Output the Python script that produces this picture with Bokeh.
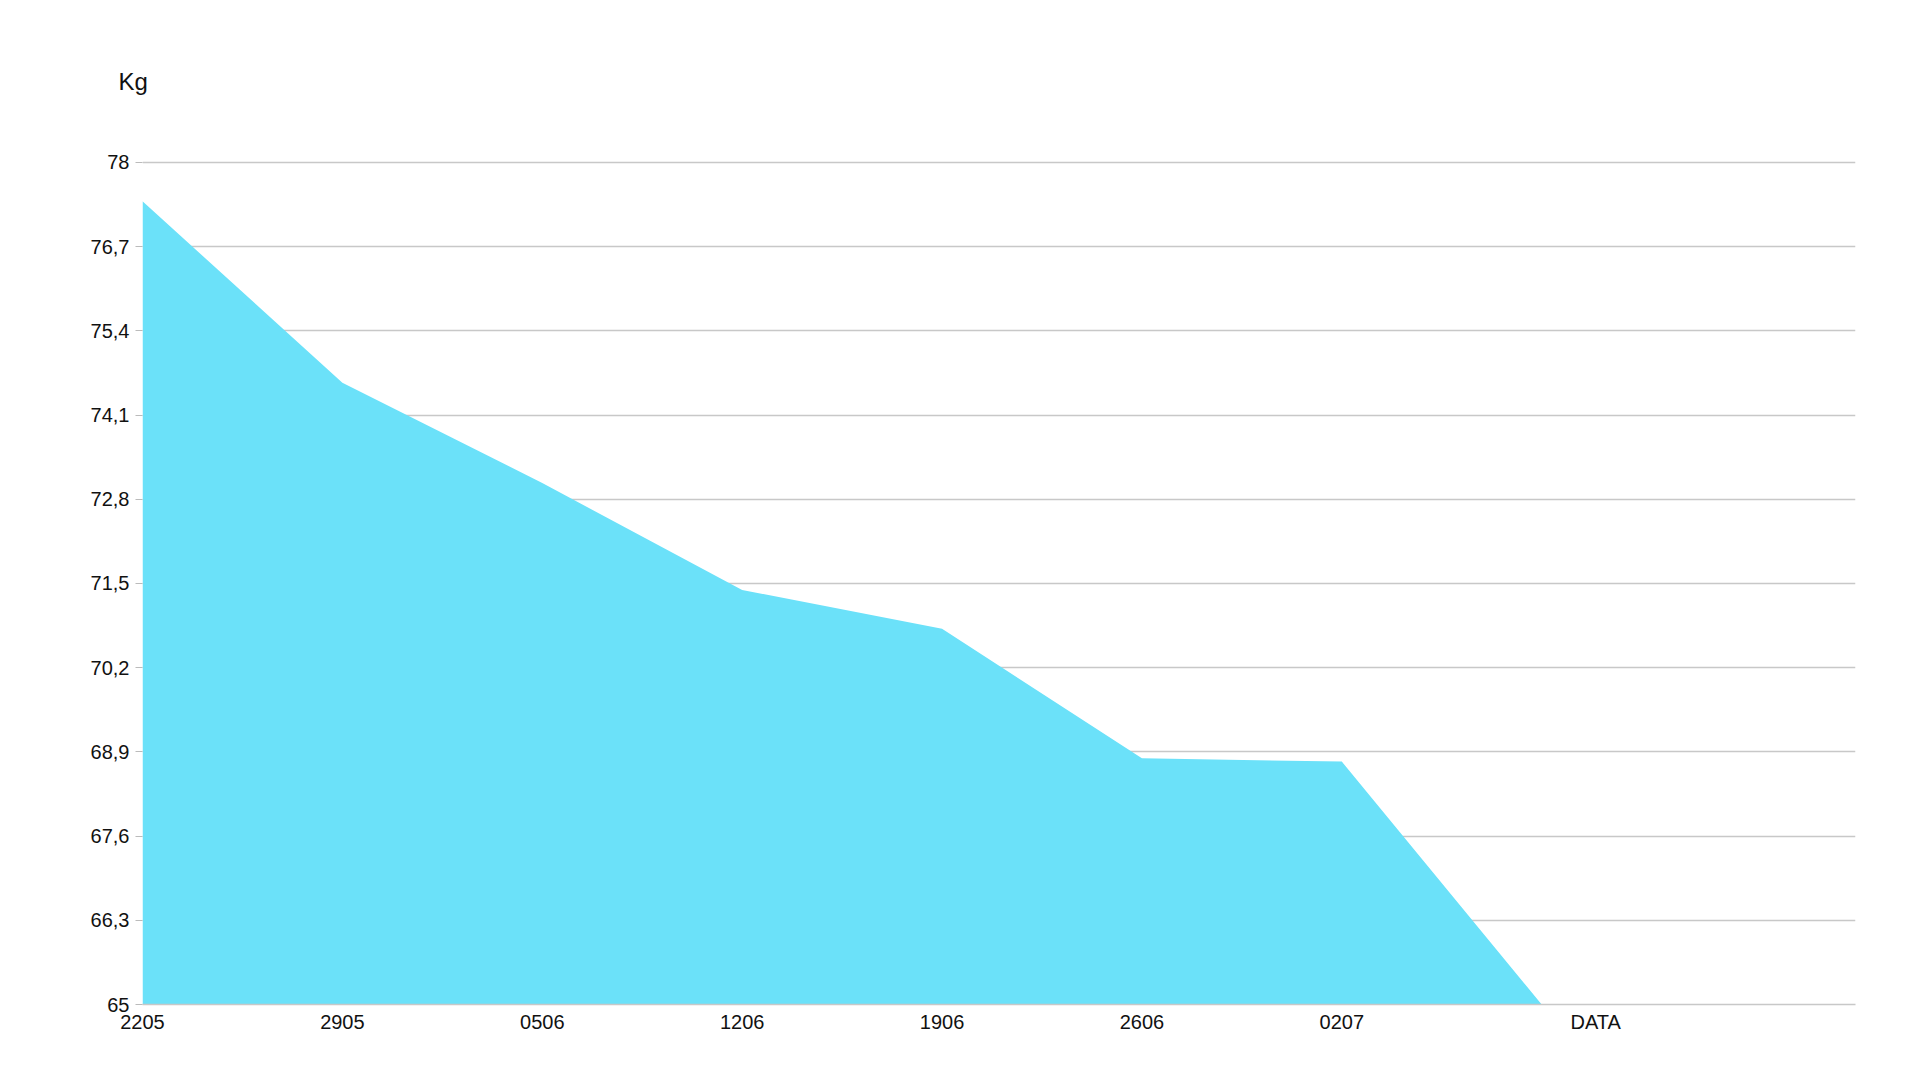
from bokeh.plotting import figure
from bokeh.models import FixedTicker, CustomJSTickFormatter, Range1d, Title
from bokeh.embed import file_html
from bokeh.resources import INLINE

# ---- data ----
dates = ["2205", "2905", "0506", "1206", "1906", "2606", "0207", ""]
weights = [77.4, 74.6, 73.05, 71.4, 70.8, 68.8, 68.75, 65.0]
y_ticks = [65.0, 66.3, 67.6, 68.9, 70.2, 71.5, 72.8, 74.1, 75.4, 76.7, 78.0]
y_title = "Kg"
x_title = "DATA"
x_title_pos = 7.27

FONT = "Liberation Sans"
xs = list(range(len(dates)))

p = figure(width=1904, height=1064, output_backend="svg", toolbar_location=None,
           x_range=Range1d(0, 8.57), y_range=Range1d(65, 78.03),
           min_border_left=142, min_border_right=49, min_border_top=160,
           min_border_bottom=60)
p.outline_line_color = None
p.background_fill_color = "white"
p.border_fill_color = "white"

p.varea(x=xs, y1=[65] * len(xs), y2=weights, fill_color="#6BE1F9", fill_alpha=1.0)

# y axis
p.yaxis.ticker = FixedTicker(ticks=y_ticks)
p.yaxis.formatter = CustomJSTickFormatter(code="""
    let s = (Math.round(tick*10)/10).toFixed(1);
    if (s.endsWith('.0')) s = s.slice(0, -2);
    return s.replace('.', ',');
""")
p.yaxis.axis_line_color = None
p.yaxis.major_tick_line_color = "#BBBBBB"
p.yaxis.major_tick_out = 7
p.yaxis.major_tick_in = 0
p.yaxis.minor_tick_line_color = None
p.yaxis.major_label_text_font = FONT
p.yaxis.major_label_text_font_size = "20px"
p.yaxis.major_label_text_color = "#111111"
p.yaxis.major_label_standoff = 6

# x axis (category labels plus the axis title "DATA" on the same row)
p.xaxis.ticker = FixedTicker(ticks=xs + [x_title_pos])
overrides = {i: d for i, d in enumerate(dates)}
overrides[x_title_pos] = x_title
p.xaxis.major_label_overrides = overrides
p.xaxis.axis_line_color = "#C8C8C8"
p.xaxis.axis_line_width = 1.3
p.xaxis.major_tick_line_color = None
p.xaxis.minor_tick_line_color = None
p.xaxis.major_label_text_font = FONT
p.xaxis.major_label_text_font_size = "20px"
p.xaxis.major_label_text_color = "#111111"
p.xaxis.major_label_standoff = 0

# grid
p.xgrid.grid_line_color = None
p.ygrid.grid_line_color = "#C8C8C8"
p.ygrid.grid_line_width = 1.3
p.ygrid.level = "underlay"

# "Kg" title above the y axis
p.add_layout(Title(text=y_title, align="left", offset=-24, standoff=128,
                   vertical_align="top",
                   text_font=FONT, text_font_size="24px",
                   text_font_style="normal", text_color="#111111"), "above")

open("out.html", "w").write(file_html(p, INLINE))
